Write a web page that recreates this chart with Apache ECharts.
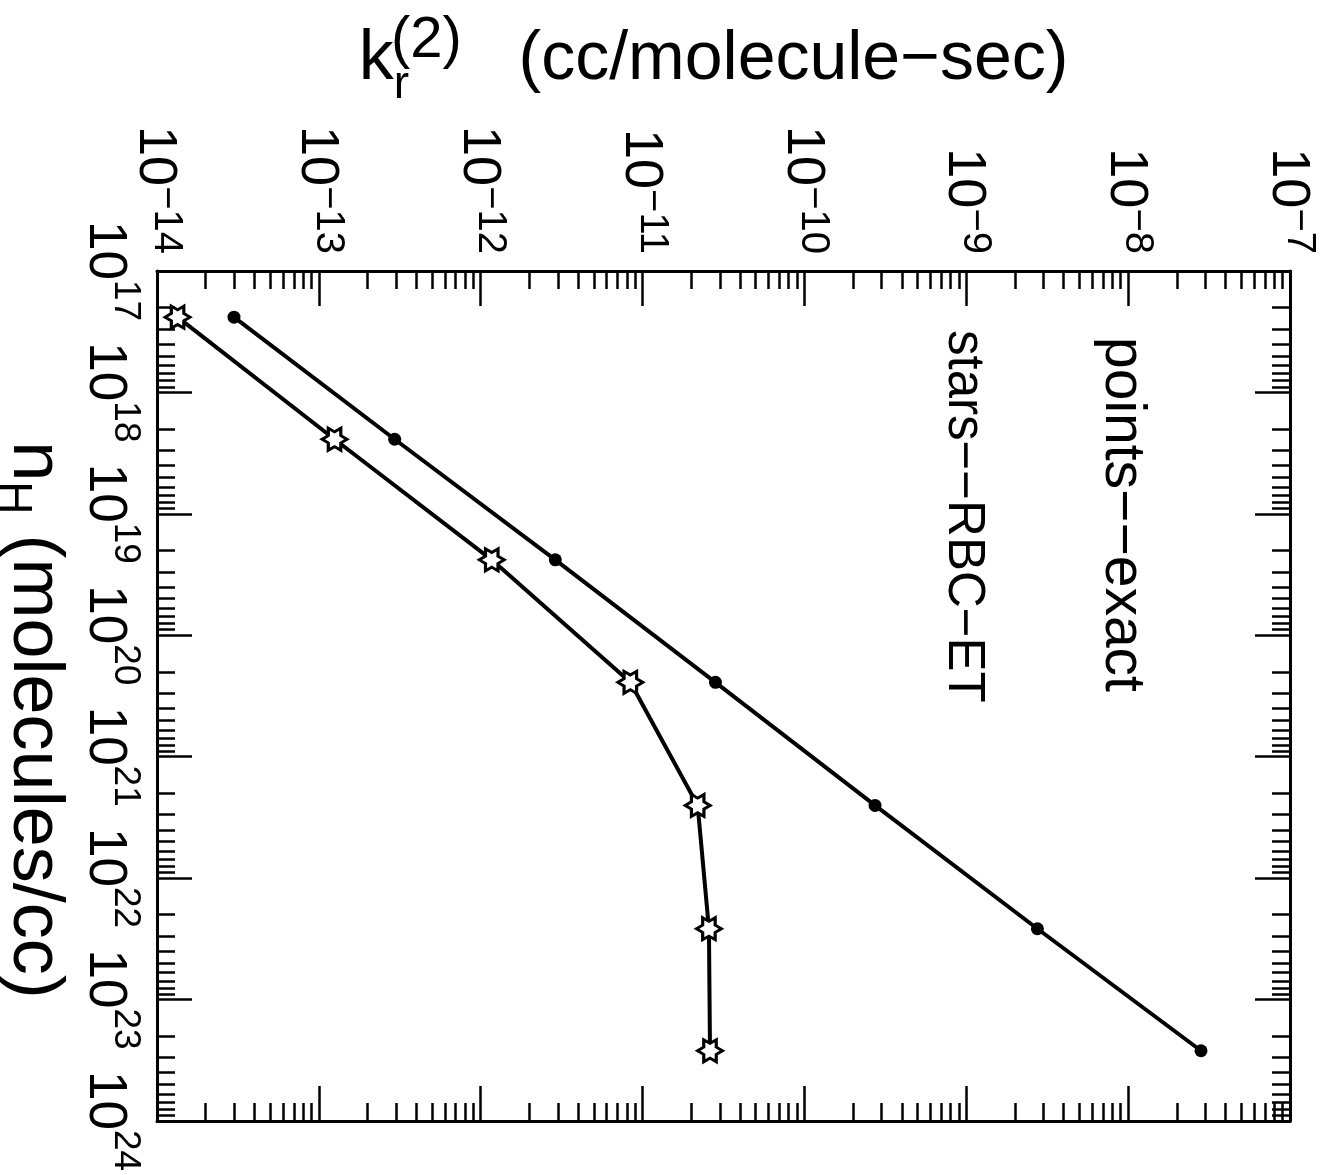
<!DOCTYPE html>
<html>
<head>
<meta charset="utf-8">
<script src="https://cdn.jsdelivr.net/npm/echarts@6/dist/echarts.min.js"></script>
<style>
  html, body { margin: 0; padding: 0; background: #fff; }
  #chart { width: 1333px; height: 1175px; }
</style>
</head>
<body>
<div id="chart"></div>
<script>
// Hydrogen density n_H (molecules/cc) at which the rate was evaluated
const densities = [2.4e17, 2.43e18, 2.39e19, 2.44e20, 2.52e21, 2.61e22, 2.64e23];
// Exact recombination rate coefficient k_r(2) (cc/molecule-sec)
const exactRates = [2.99e-14, 2.94e-13, 2.89e-12, 2.82e-11, 2.73e-10, 2.75e-9, 2.82e-8];
// RBC-ET approximation of the same rate
const rbcEtRates = [1.34e-14, 1.25e-13, 1.17e-12, 8.4e-12, 2.19e-11, 2.57e-11, 2.61e-11];

// Decade exponents shown on the two axes
const rateExponents = ['\u221214', '\u221213', '\u221212', '\u221211', '\u221210', '\u22129', '\u22128', '\u22127'];
const densityExponents = ['17', '18', '19', '20', '21', '22', '23', '24'];
const rateDecadeLow = -14, rateDecadeHigh = -7;
const densityDecadeLow = 17, densityDecadeHigh = 24;

// In-plot key
const keyLines = ['points\u2212\u2212exact', 'stars\u2212\u2212RBC\u2212ET'];

const FONT = 'Liberation Sans';
const INK = '#000';
const MAJOR_LEN = 35, MINOR_LEN = 18;

// positions of the 2..9 ticks inside every decade, in exponent units
function minorTicks(lo, hi) {
  const out = [];
  for (let d = lo; d < hi; d++) {
    for (let m = 2; m <= 9; m++) out.push(d + Math.log10(m));
  }
  return out;
}

function decadeLabel(exps, lo) {
  return function (value) {
    const e = Math.round(Math.log10(value));
    return '{b|10}{e|' + exps[e - lo] + '}';
  };
}

// "10" with a raised exponent
const rateTickRich = {
  b: { fontFamily: FONT, fontSize: 54, lineHeight: 58, color: INK, verticalAlign: 'bottom' },
  e: { fontFamily: FONT, fontSize: 40, lineHeight: 32, color: INK, verticalAlign: 'top' }
};
const densityTickRich = {
  b: { fontFamily: FONT, fontSize: 53, lineHeight: 66, color: INK, verticalAlign: 'bottom' },
  e: { fontFamily: FONT, fontSize: 37, lineHeight: 30, color: INK, verticalAlign: 'top' }
};

const frameLine = { show: true, onZero: false, lineStyle: { color: INK, width: 3 } };
const noLine = { show: false, onZero: false };

function majorTick() {
  return { show: true, inside: true, length: MAJOR_LEN, lineStyle: { color: INK, width: 2.5 } };
}
function minorTickStyle(values) {
  return { show: true, inside: true, length: MINOR_LEN, customValues: values, lineStyle: { color: INK, width: 2.5 } };
}

const base = {
  splitLine: { show: false },
  minorTick: { show: false },
  minorSplitLine: { show: false },
  axisPointer: { show: false },
  silent: true
};

function rateLogAxis(position, withLabels) {
  return Object.assign({}, base, {
    type: 'log', logBase: 10, position: position,
    min: Math.pow(10, rateDecadeLow), max: Math.pow(10, rateDecadeHigh), interval: 1,
    axisLine: frameLine, axisTick: majorTick(),
    axisLabel: withLabels ? {
      show: true, rotate: 90, margin: 17,
      formatter: decadeLabel(rateExponents, rateDecadeLow), rich: rateTickRich
    } : { show: false }
  });
}
function rateMinorAxis(position) {
  return Object.assign({}, base, {
    type: 'value', position: position, min: rateDecadeLow, max: rateDecadeHigh,
    axisLine: noLine, axisTick: minorTickStyle(minorTicks(rateDecadeLow, rateDecadeHigh)),
    axisLabel: { show: false }
  });
}
function densityLogAxis(position, withLabels) {
  return Object.assign({}, base, {
    type: 'log', logBase: 10, position: position, inverse: true,
    min: Math.pow(10, densityDecadeLow), max: Math.pow(10, densityDecadeHigh), interval: 1,
    axisLine: frameLine, axisTick: majorTick(),
    axisLabel: withLabels ? {
      show: true, rotate: -90, margin: 13,
      formatter: decadeLabel(densityExponents, densityDecadeLow), rich: densityTickRich
    } : { show: false }
  });
}
function densityMinorAxis(position) {
  return Object.assign({}, base, {
    type: 'value', position: position, inverse: true, min: densityDecadeLow, max: densityDecadeHigh,
    axisLine: noLine, axisTick: minorTickStyle(minorTicks(densityDecadeLow, densityDecadeHigh)),
    axisLabel: { show: false }
  });
}

const rateAxis = rateLogAxis('top', true);
rateAxis.name = '{k|k}{r|r}{p|(2)}{t|   (cc/molecule\u2212sec)}';
rateAxis.nameLocation = 'middle';
rateAxis.nameGap = 163;
rateAxis.nameTextStyle = {
  padding: [0, 20, 0, 0],
  rich: {
    k: { fontFamily: FONT, fontSize: 70, lineHeight: 96, color: INK, verticalAlign: 'middle' },
    r: { fontFamily: FONT, fontSize: 46, lineHeight: 46, color: INK, verticalAlign: 'bottom', padding: [0, -18, 0, 0] },
    p: { fontFamily: FONT, fontSize: 58, lineHeight: 50, color: INK, verticalAlign: 'top' },
    t: { fontFamily: FONT, fontSize: 68, lineHeight: 96, color: INK, verticalAlign: 'middle' }
  }
};

const densityAxis = densityLogAxis('left', true);
densityAxis.name = '{n|n}{h|H}{t| (molecules/cc)}';
densityAxis.nameLocation = 'middle';
densityAxis.nameRotate = -90;
densityAxis.nameGap = 76;
densityAxis.nameTextStyle = {
  padding: [0, 0, 0, 48],
  rich: {
    n: { fontFamily: FONT, fontSize: 72, lineHeight: 80, color: INK, verticalAlign: 'top' },
    h: { fontFamily: FONT, fontSize: 46, lineHeight: 46, color: INK, verticalAlign: 'bottom' },
    t: { fontFamily: FONT, fontSize: 72, lineHeight: 80, color: INK, verticalAlign: 'top' }
  }
};

// six-pointed star outline
const STAR = 'path://M20 10 L15 12.887 L15 18.66 L10 15.774 L5 18.66 L5 12.887 L0 10 L5 7.113 L5 1.34 L10 4.226 L15 1.34 L15 7.113 Z';

const chart = echarts.init(document.getElementById('chart'), null, { renderer: 'canvas' });
chart.setOption({
  animation: false,
  backgroundColor: '#fff',
  grid: { left: 157, top: 271, right: 43, bottom: 54, containLabel: false, outerBoundsMode: 'none' },
  xAxis: [rateAxis, rateMinorAxis('top'), rateLogAxis('bottom', false), rateMinorAxis('bottom')],
  yAxis: [densityAxis, densityMinorAxis('left'), densityLogAxis('right', false), densityMinorAxis('right')],
  series: [
    {
      name: 'exact', type: 'line', xAxisIndex: 0, yAxisIndex: 0,
      data: densities.map((n, i) => [exactRates[i], n]),
      symbol: 'circle', symbolSize: 13, clip: false, silent: true,
      itemStyle: { color: INK }, lineStyle: { color: INK, width: 4 },
      emphasis: { disabled: true }, z: 3
    },
    {
      name: 'RBC-ET', type: 'line', xAxisIndex: 0, yAxisIndex: 0,
      data: densities.map((n, i) => [rbcEtRates[i], n]),
      symbol: STAR, symbolSize: [25, 22], clip: false, silent: true,
      itemStyle: { color: '#fff', borderColor: INK, borderWidth: 3 },
      lineStyle: { color: INK, width: 4 },
      emphasis: { disabled: true }, z: 3
    }
  ],
  graphic: keyLines.map((t, i) => ({
    type: 'text',
    x: [1122, 963][i],
    y: [337, 330][i],
    rotation: -Math.PI / 2,
    silent: true,
    style: {
      text: t, font: [57, 51][i] + 'px "' + FONT + '"', fill: INK,
      align: 'left', verticalAlign: 'middle', textAlign: 'left', textVerticalAlign: 'middle'
    }
  }))
});
</script>
</body>
</html>
